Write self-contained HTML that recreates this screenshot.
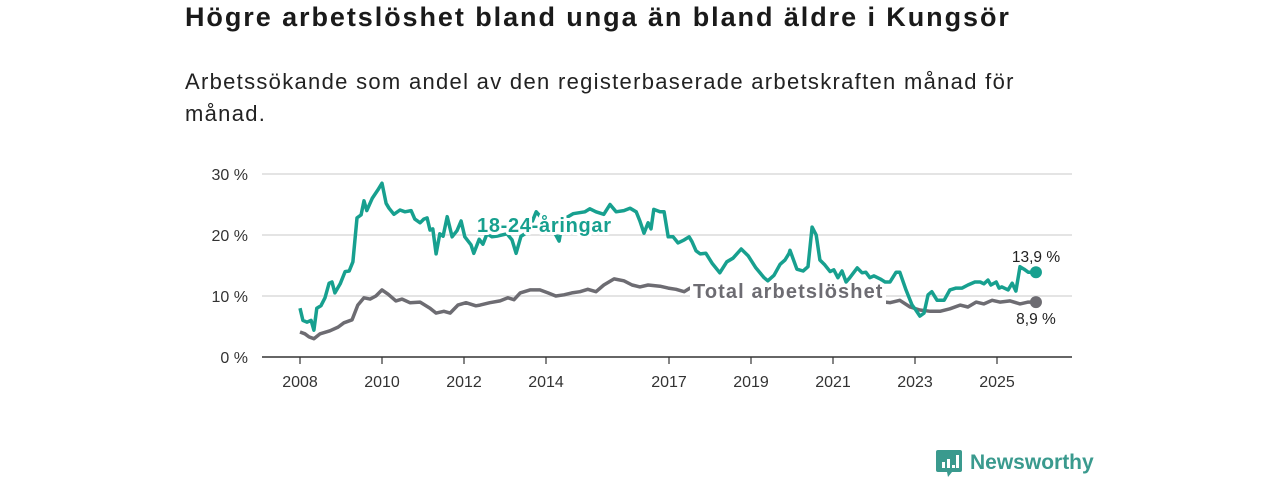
<!DOCTYPE html>
<html lang="sv">
<head>
<meta charset="utf-8">
<style>
  html,body{margin:0;padding:0;background:#fff;}
  body{width:1280px;height:480px;position:relative;overflow:hidden;font-family:"Liberation Sans","DejaVu Sans",sans-serif;color:#1a1a1a;}
  h1{position:absolute;left:185px;top:2px;margin:0;font-size:27px;font-weight:bold;letter-spacing:1.93px;white-space:nowrap;}
  .sub{position:absolute;left:185px;top:66px;margin:0;font-size:22px;letter-spacing:1.3px;line-height:32px;width:860px;color:#222;}
  svg{position:absolute;left:0;top:0;}
</style>
</head>
<body>
<h1>Högre arbetslöshet bland unga än bland äldre i Kungsör</h1>
<p class="sub">Arbetssökande som andel av den registerbaserade arbetskraften månad för månad.</p>
<svg id="chart" width="1280" height="480"></svg>
<script>
const yTicks=[0,10,20,30];
const yTickLabels=["0 %","10 %","20 %","30 %"];
const xTicks=[2008,2010,2012,2014,2017,2019,2021,2023,2025];
const youthYears=[0,.07,.17,.27,.34,.41,.51,.61,.71,.78,.85,.98,1.10,1.20,1.29,1.39,1.49,1.56,1.63,1.76,1.90,2.00,2.10,2.17,2.29,2.44,2.56,2.71,2.80,2.93,3.02,3.10,3.17,3.24,3.32,3.41,3.49,3.59,3.71,3.83,3.93,4.02,4.17,4.24,4.37,4.46,4.56,4.68,4.80,5.05,5.17,5.27,5.39,5.56,5.76,6.00,6.20,6.32,6.41,6.66,6.95,7.07,7.22,7.41,7.56,7.71,7.90,8.05,8.20,8.29,8.39,8.49,8.56,8.63,8.78,8.88,8.98,9.10,9.22,9.37,9.49,9.56,9.66,9.76,9.90,10.05,10.24,10.41,10.56,10.76,10.93,11.12,11.32,11.41,11.56,11.71,11.83,11.93,11.95,12.12,12.27,12.39,12.49,12.59,12.68,12.80,12.93,13.02,13.12,13.22,13.32,13.41,13.59,13.71,13.80,13.90,14.00,14.15,14.27,14.39,14.54,14.63,14.78,14.93,15.02,15.12,15.22,15.32,15.41,15.54,15.71,15.85,16.00,16.15,16.29,16.46,16.59,16.68,16.78,16.85,16.98,17.05,17.12,17.27,17.37,17.46,17.56,17.66,17.76,17.95];
const youthValues=[8.0,6.0,5.7,6.0,4.4,8.0,8.4,9.7,12.1,12.3,10.5,12.0,14.0,14.1,15.6,22.8,23.3,25.6,24.0,26.0,27.4,28.5,25.2,24.4,23.4,24.1,23.8,24.0,22.6,22.0,22.6,22.8,20.8,21.0,16.9,20.2,19.8,23.0,19.7,20.7,22.3,19.7,18.4,17.0,19.3,18.5,20.2,19.7,19.8,20.2,19.2,17.0,19.8,20.5,23.8,22.0,20.5,19.0,22.5,23.5,23.8,24.3,23.8,23.4,25.0,23.8,24.0,24.4,23.8,22.3,20.3,22.0,21.0,24.2,23.8,23.8,19.7,19.7,18.7,19.2,19.7,18.9,17.4,16.9,17.0,15.4,13.8,15.6,16.2,17.7,16.6,14.6,13.0,12.5,13.4,15.2,15.9,17.0,17.5,14.4,14.1,14.8,21.3,20.0,15.9,15.1,14.0,14.3,13.0,14.1,12.3,13.0,14.6,13.8,13.9,13.0,13.3,12.8,12.3,12.3,13.9,13.9,11.0,8.5,7.7,6.7,7.2,10.2,10.7,9.3,9.3,11.0,11.3,11.3,11.8,12.3,12.3,12.0,12.6,11.8,12.3,11.3,11.5,11.0,12.1,10.8,14.8,14.4,13.9,13.9];
const totalYears=[0,.12,.22,.34,.49,.59,.73,.93,1.07,1.27,1.41,1.56,1.71,1.85,2.00,2.15,2.34,2.49,2.68,2.93,3.17,3.32,3.51,3.66,3.85,4.05,4.29,4.39,4.63,4.88,5.07,5.22,5.37,5.61,5.85,6.05,6.24,6.44,6.63,6.83,7.02,7.22,7.41,7.66,7.90,8.10,8.29,8.49,8.78,8.98,9.17,9.37,9.51,10.24,11.2,12.2,13.17,14.27,14.39,14.63,14.88,15.12,15.37,15.61,15.85,16.10,16.29,16.49,16.68,16.88,17.07,17.32,17.56,17.76,17.95];
const totalValues=[4.1,3.8,3.3,3.0,3.8,4.0,4.3,4.9,5.6,6.1,8.5,9.7,9.5,10.0,11.0,10.3,9.2,9.5,8.9,9.0,8.0,7.2,7.5,7.2,8.5,8.9,8.4,8.5,8.9,9.2,9.7,9.4,10.5,11.0,11.0,10.5,10.0,10.2,10.5,10.7,11.1,10.7,11.8,12.8,12.5,11.8,11.5,11.8,11.6,11.3,11.1,10.7,11.3,10.0,9.5,9.5,9.0,9.0,8.9,9.3,8.2,7.7,7.5,7.5,7.9,8.5,8.2,9.0,8.7,9.3,9.0,9.2,8.7,9.0,9.0];
const youthLast="13,9 %";
const totalLast="8,9 %";

const NS="http://www.w3.org/2000/svg";
const svg=document.getElementById('chart');
const xS=y=>300+y*41;
const xYear=yr=>xS(yr-2008);
const yS=v=>357-v*6.1;
function mk(tag,attrs){const e=document.createElementNS(NS,tag);for(const k in attrs)e.setAttribute(k,attrs[k]);svg.appendChild(e);return e;}

yTicks.forEach((t,i)=>{
  if(t>0){const g=mk('line',{x1:262,x2:1072,y1:yS(t),y2:yS(t),stroke:'#dcdcdc','stroke-width':1.5});
  
  }
  const l=mk('text',{x:248,y:yS(t)+6,'text-anchor':'end','font-size':16,fill:'#333'});
  l.textContent=yTickLabels[i];
  
  
});
const ax=mk('line',{x1:262,x2:1072,y1:357,y2:357,stroke:'#333','stroke-width':1.5});


xTicks.forEach(t=>{
  const tk=mk('line',{x1:xYear(t),x2:xYear(t),y1:357,y2:364,stroke:'#333','stroke-width':1.2});
  
  
  const l=mk('text',{x:xYear(t),y:387,'text-anchor':'middle','font-size':16,fill:'#333'});
  l.textContent=t;
  
  
});
function pathFor(xs,vs){return xs.map((x,i)=>(i?'L':'M')+xS(x).toFixed(1)+','+yS(vs[i]).toFixed(1)).join('');}
const tl=mk('path',{d:pathFor(totalYears,totalValues),fill:'none',stroke:'#6d6c72','stroke-width':3.5,'stroke-linejoin':'round'});


const bg=mk('rect',{x:690,y:278,width:196,height:26,fill:'#fff'});


const yl=mk('path',{d:pathFor(youthYears,youthValues),fill:'none',stroke:'#17a08f','stroke-width':3.5,'stroke-linejoin':'round'});



const lab1=mk('text',{x:477,y:232,'font-size':20,'letter-spacing':0.7,'font-weight':'bold',fill:'#17a08f',stroke:'#fff','stroke-width':6,'paint-order':'stroke','stroke-linejoin':'round'});
lab1.textContent='18-24-åringar';


const lab2=mk('text',{x:693,y:298,'font-size':20,'letter-spacing':1.1,'font-weight':'bold',fill:'#6d6c72',stroke:'#fff','stroke-width':6,'paint-order':'stroke','stroke-linejoin':'round'});
lab2.textContent='Total arbetslöshet';



const ly=youthYears.length-1, lt=totalYears.length-1;
const d1=mk('circle',{cx:xS(youthYears[ly]),cy:yS(youthValues[ly]),r:6,fill:'#17a08f'});


const d2=mk('circle',{cx:xS(totalYears[lt]),cy:yS(totalValues[lt]),r:6,fill:'#6d6c72'});


const v1=mk('text',{x:1036,y:yS(youthValues[ly])-10,'text-anchor':'middle','font-size':15.5,fill:'#222'});
v1.textContent=youthLast;


const v2=mk('text',{x:1036,y:yS(totalValues[lt])+22,'text-anchor':'middle','font-size':15.5,fill:'#222'});
v2.textContent=totalLast;


</script>
<svg width="180" height="40" style="left:935px;top:446px;">
  <path d="M3 4 h22 a2 2 0 0 1 2 2 v18 a2 2 0 0 1 -2 2 h-8 l-4 5 l-1 -5 h-9 a2 2 0 0 1 -2 -2 v-18 a2 2 0 0 1 2 -2z" fill="#3a9a8e"/>
  <rect x="7" y="16" width="3" height="6" fill="#fff"/>
  <rect x="12" y="13" width="3" height="9" fill="#fff"/>
  <rect x="17" y="19" width="3" height="3" fill="#fff"/>
  <rect x="21" y="9" width="3" height="13" fill="#fff"/>
  <text x="35" y="23" font-size="21" font-family="Liberation Sans, sans-serif" fill="#3a9a8e" font-weight="bold">Newsworthy</text>
</svg>
</body>
</html>
